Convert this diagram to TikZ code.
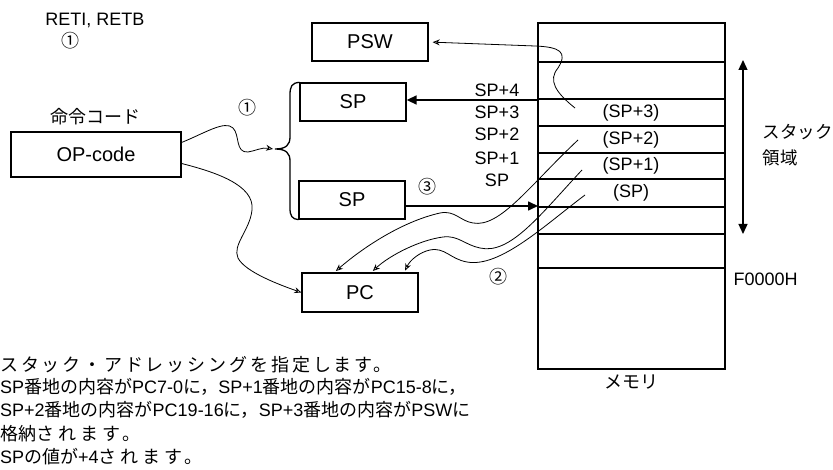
\documentclass[tikz,border=0pt]{standalone}
\usepackage{fontspec}
\setmainfont{Liberation Sans}
\newfontfamily\jpfont{Noto Sans CJK JP}
\newfontfamily\jkfont[LetterSpace=16]{Noto Sans CJK JP}
\newfontfamily\jwfont[LetterSpace=22]{Noto Sans CJK JP}
\usetikzlibrary{arrows.meta}
\newcommand{\jp}[1]{{\jpfont #1}}
\newcommand{\jk}[1]{{\jkfont #1}}
\newcommand{\jw}[1]{{\jwfont #1}}

\begin{document}
\begin{tikzpicture}[x=1pt,y=-1pt,
    box/.style={draw,line width=1.3pt,minimum width=#1,minimum height=38pt,inner sep=0pt,font=\fontsize{20}{24}\selectfont},
    lbl/.style={font=\fontsize{18}{22}\selectfont},
    wire/.style={line width=0.8pt,-{Stealth[open,length=7pt,width=6pt]}},
    bus/.style={line width=1.6pt,-{Triangle[length=10pt,width=9pt]}}]
    \useasboundingbox (0,0) rectangle (833,470);
    \node[box=116] (psw) at (370,42) {PSW};
    \node[box=106] (spTop) at (353,102) {SP};
    \node[box=106] (spLow) at (352,200) {SP};
    \node[box=116,minimum height=39pt] (pc) at (360,292.5) {PC};
    \node[box=170,minimum height=45pt] (opcode) at (96,154.5) {OP-code};
    \node[lbl] (opname) at (95,117) {\jp{命令コード}};
    \node[lbl] (insn) at (95,20) {RETI, RETB};
    \node[lbl] (stepA) at (70,41) {\jp{①}};
    \node[lbl] (stepB) at (247,108) {\jp{①}};
    \node[lbl] (stepC) at (498,277) {\jp{②}};
    \node[lbl] (stepD) at (427,187) {\jp{③}};
    \node[draw,line width=1.3pt,minimum width=187pt,minimum height=346pt,inner sep=0pt] (mem) at (631.5,196) {};
    \foreach \y in {62,99,126,153,179,207,234,268}{
      \path (0,\y) coordinate (row);
      \draw[line width=1.3pt] (mem.west |- row) -- (mem.east |- row);}
    \foreach \y/\t in {112.5/(SP+3), 139.5/(SP+2), 166/(SP+1), 193/(SP)}
      \node[lbl] at (631,\y) {\t};
    \foreach \y/\t in {90/SP+4, 112.5/SP+3, 134.5/SP+2, 158/SP+1, 180/SP}
      \node[lbl] at (497,\y) {\t};
    \node[lbl,anchor=west,font=\fontsize{17.5}{21}\selectfont] (stack) at (759,132) {\jp{スタック}};
    \node[lbl,anchor=west,font=\fontsize{17.5}{21}\selectfont] (area) at (759,158) {\jp{領域}};
    \node[lbl,anchor=west] (base) at (730,279) {F0000H};
    \node[lbl] (memname) at (631,382) {\jp{メモリ}};
    \coordinate (stTop) at (743,60);
    \coordinate (stBot) at (743,234);
    \draw[line width=1.3pt,{Triangle[length=10pt,width=9pt]}-{Triangle[length=10pt,width=9pt]}] (stTop) -- (stBot);
    \coordinate (m4) at (538,100);
    \coordinate (m0) at (538,206);
    \draw[bus] (m4) -- (spTop.east |- m4);
    \draw[bus] (spLow.east |- m0) -- (m0);
    \coordinate (hook) at (275,149);
    \draw[line width=1.3pt] (spTop.north west) .. controls (292,83) and (290,86) .. (290,95) -- (290,137)
      .. controls (290,145) and (286,149) .. (hook) .. controls (286,149) and (290,153) .. (290,161) -- (290,208)
      .. controls (290,216) and (292,219) .. (spLow.south west);
    \draw[wire] (opcode.8) .. controls (205,133) and (225,120) .. (233,128)
      .. controls (240,135) and (235,153) .. (248,152) .. controls (255,151) and (262,147) .. ([xshift=-2pt]hook);
    \draw[wire] (opcode.-6) .. controls (215,172) and (255,185) .. (252,210)
      .. controls (250,230) and (232,245) .. (238,258) .. controls (245,272) and (280,285) .. (pc.west);
    \coordinate (fromPSW) at (575,108);
    \draw[wire,shorten >=4pt] (fromPSW) .. controls (555,92) and (548,80) .. (558,68)
      .. controls (568,52) and (560,47) .. (535,46) -- (psw.east);
    \coordinate (from2) at (578,140);
    \coordinate (from1) at (582,170);
    \coordinate (from0) at (585,195);
    \draw[wire,shorten >=2pt] (from2) .. controls (530,185) and (500,228) .. (473,223)
      .. controls (460,221) and (455,210) .. (440,213) .. controls (400,222) and (360,250) .. ([xshift=33pt]pc.north west);
    \draw[wire,shorten >=2pt] (from1) .. controls (540,215) and (510,255) .. (480,248)
      .. controls (465,245) and (458,235) .. (443,237) .. controls (420,240) and (390,255) .. ([xshift=70pt]pc.north west);
    \draw[wire,shorten >=2pt] (from0) .. controls (545,225) and (500,268) .. (467,262)
      .. controls (450,259) and (445,247) .. (430,250) .. controls (420,252) and (410,260) .. ([xshift=103pt]pc.north west);
    \foreach \y/\t in {%
      371/{\jk{スタック・アドレッシングを指定します。}},
      394/{SP\jp{番地の内容が}PC7-0\jp{に，}SP+1\jp{番地の内容が}PC15-8\jp{に，}},
      417/{SP+2\jp{番地の内容が}PC19-16\jp{に，}SP+3\jp{番地の内容が}PSW\jp{に}},
      440/{\jp{格納}\jw{されます。}},
      463/{SP\jp{の値が}+4\jw{されます。}}}
      \node[lbl,anchor=base west,inner sep=0pt] at (0,\y) {\t};
\end{tikzpicture}
\end{document}
